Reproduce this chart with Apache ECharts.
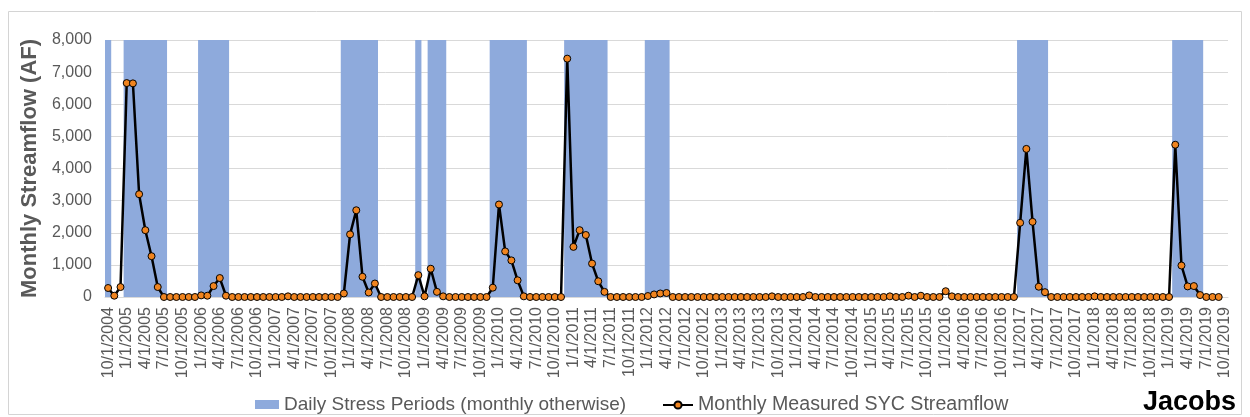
<!DOCTYPE html>
<html>
<head>
<meta charset="utf-8">
<script src="https://cdn.jsdelivr.net/npm/echarts@6/dist/echarts.min.js"></script>
<style>
html,body{margin:0;padding:0;background:#fff;}
#chart{width:1250px;height:417px;}
</style>
</head>
<body>
<div id="chart"></div>
<script>
// Month categories: 10/1/2004 ... 10/1/2019 (monthly)
const categories = [];
for (let y = 2004, m = 10; y < 2019 || (y === 2019 && m <= 10); ) {
  categories.push(m + '/1/' + y);
  m++; if (m > 12) { m = 1; y++; }
}

// Monthly measured SYC streamflow (AF), one row per water year (Oct..Sep)
const wy2005 = [280, 40, 310, 6660, 6650, 3200, 2080, 1270, 310, 0, 0, 0];
const wy2006 = [0, 0, 0, 50, 40, 340, 590, 40, 0, 0, 0, 0];
const wy2007 = [0, 0, 0, 0, 0, 20, 0, 0, 0, 0, 0, 0];
const wy2008 = [0, 0, 110, 1950, 2700, 630, 140, 420, 0, 0, 0, 0];
const wy2009 = [0, 0, 680, 20, 880, 160, 20, 0, 0, 0, 0, 0];
const wy2010 = [0, 0, 290, 2880, 1420, 1140, 520, 20, 0, 0, 0, 0];
const wy2011 = [0, 0, 7420, 1560, 2080, 1930, 1040, 490, 160, 0, 0, 0];
const wy2012 = [0, 0, 0, 30, 80, 110, 125, 0, 0, 0, 0, 0];
const wy2013 = [0, 0, 0, 0, 0, 0, 0, 0, 0, 0, 0, 20];
const wy2014 = [0, 0, 0, 0, 0, 50, 0, 0, 0, 0, 0, 0];
const wy2015 = [0, 0, 0, 0, 0, 0, 20, 0, 0, 40, 0, 40];
const wy2016 = [0, 0, 0, 180, 20, 0, 0, 0, 0, 0, 0, 0];
const wy2017 = [0, 0, 0, 2310, 4610, 2340, 320, 150, 0, 0, 0, 0];
const wy2018 = [0, 0, 0, 20, 0, 0, 0, 0, 0, 0, 0, 0];
const wy2019 = [0, 0, 0, 0, 4740, 980, 330, 340, 60, 0, 0, 0];
const wy2020 = [null];

// Daily stress periods: [first month, last month]
const stressPeriods = [
  ['10/1/2004', '10/1/2004'],
  ['1/1/2005', '7/1/2005'],
  ['1/1/2006', '5/1/2006'],
  ['12/1/2007', '5/1/2008'],
  ['12/1/2008', '12/1/2008'],
  ['2/1/2009', '4/1/2009'],
  ['12/1/2009', '5/1/2010'],
  ['12/1/2010', '6/1/2011'],
  ['1/1/2012', '4/1/2012'],
  ['1/1/2017', '5/1/2017'],
  ['2/1/2019', '6/1/2019']
];
const stressBarHeight = 8000;

const yTicks = { min: 0, max: 8000, interval: 1000 };

const flow = [].concat(wy2005, wy2006, wy2007, wy2008, wy2009, wy2010, wy2011,
  wy2012, wy2013, wy2014, wy2015, wy2016, wy2017, wy2018, wy2019, wy2020);

const stressData = stressPeriods.map(([a, b]) =>
  [categories.indexOf(a), categories.indexOf(b), stressBarHeight]);

const FONT = 'Liberation Sans, Arial, sans-serif';
const BAR = '#8eaadc';
const SERIES_BAR = 'Daily Stress Periods (monthly otherwise)';
const SERIES_LINE = 'Monthly Measured SYC Streamflow';

function renderStress(params, api) {
  const i0 = api.value(0), i1 = api.value(1), h = api.value(2);
  const bw = api.size([1, 0])[0];
  const pA = api.coord([i0, 0]);
  const pB = api.coord([i1, h]);
  const x0 = pA[0] - bw / 2;
  const x1 = pB[0] + bw / 2;
  return {
    type: 'rect',
    shape: { x: x0, y: pB[1], width: x1 - x0, height: pA[1] - pB[1] },
    style: { fill: BAR }
  };
}

const chart = echarts.init(document.getElementById('chart'), null, { renderer: 'canvas' });
chart.setOption({
  animation: false,
  backgroundColor: '#ffffff',
  textStyle: { fontFamily: FONT },
  grid: { left: 105, right: 22, top: 40, bottom: 120, containLabel: false },
  legend: [
    {
      left: 250, top: 390,
      itemWidth: 24, itemHeight: 9,
      textStyle: { fontSize: 19, color: '#595959', fontFamily: FONT },
      data: [{ name: SERIES_BAR, icon: 'rect', itemStyle: { color: BAR } }]
    },
    {
      left: 657, top: 390,
      itemWidth: 30, itemHeight: 9,
      textStyle: { fontSize: 19.6, color: '#595959', fontFamily: FONT },
      data: [{ name: SERIES_LINE }]
    }
  ],
  xAxis: {
    type: 'category',
    data: categories,
    boundaryGap: true,
    axisLine: { show: true, lineStyle: { color: '#d9d9d9', width: 1 } },
    axisTick: { show: false },
    axisLabel: { interval: 2, rotate: 90, fontSize: 16, color: '#595959', margin: 10, fontFamily: FONT },
    splitLine: { show: false }
  },
  yAxis: {
    type: 'value',
    min: yTicks.min, max: yTicks.max, interval: yTicks.interval,
    name: 'Monthly Streamflow (AF)',
    nameLocation: 'middle',
    nameGap: 61,
    nameTextStyle: { fontSize: 22, fontWeight: 'bold', color: '#595959', fontFamily: FONT },
    axisLine: { show: false },
    axisTick: { show: false },
    axisLabel: {
      fontSize: 16, color: '#595959', margin: 13, fontFamily: FONT,
      formatter: v => v.toLocaleString('en-US')
    },
    splitLine: { lineStyle: { color: '#d9d9d9', width: 1 } }
  },
  series: [
    {
      name: SERIES_BAR,
      type: 'custom',
      renderItem: renderStress,
      data: stressData,
      encode: { x: [0, 1], y: 2 },
      itemStyle: { color: BAR },
      silent: true,
      z: 1
    },
    {
      name: SERIES_LINE,
      type: 'line',
      data: flow,
      symbol: 'circle',
      symbolSize: 7,
      showAllSymbol: true,
      lineStyle: { color: '#000000', width: 2.5 },
      itemStyle: { color: '#f0841f', borderColor: '#000000', borderWidth: 1 },
      z: 3
    }
  ],
  graphic: [
    {
      type: 'rect', silent: true, z: -10,
      shape: { x: 8.5, y: 11.5, width: 1233, height: 403 },
      style: { fill: 'none', stroke: '#d4d4d4', lineWidth: 1 }
    },
    {
      type: 'text', left: 1143, top: 389,
      style: { text: 'Jacobs', font: 'bold 27px ' + FONT, fill: '#000000' }
    }
  ]
});
</script>
</body>
</html>
